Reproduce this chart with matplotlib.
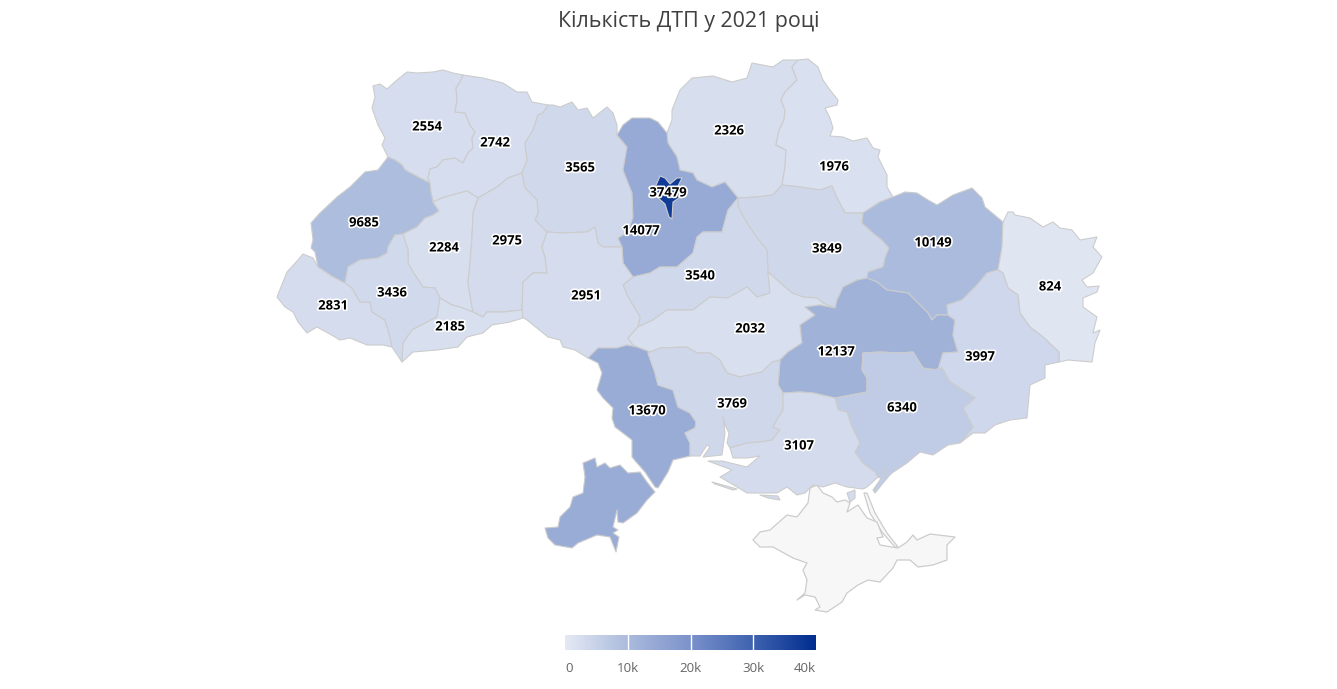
import matplotlib
matplotlib.use('Agg')
import matplotlib.pyplot as plt
import matplotlib.patheffects as pe
import numpy as np
from matplotlib.colors import LinearSegmentedColormap, Normalize
from matplotlib.patches import Polygon

plt.rcParams['font.family'] = ['Open Sans', 'DejaVu Sans']

title = 'Кількість ДТП у 2021 році'

# Accidents per region.
region_names = [
    'volyn', 'rivne', 'zhytomyr', 'chernihiv', 'sumy', 'lviv', 'ternopil',
    'khmelnytskyi', 'kyiv_obl', 'poltava', 'kharkiv', 'luhansk', 'cherkasy',
    'vinnytsia', 'zakarpattia', 'ivano_frankivsk', 'chernivtsi', 'kirovohrad',
    'dnipro', 'donetsk', 'odesa', 'mykolaiv', 'zaporizhzhia', 'kherson',
    'kyiv_city',
]
values = [
    2554, 2742, 3565, 2326, 1976, 9685, 2284,
    2975, 14077, 3849, 10149, 824, 3540,
    2951, 2831, 3436, 2185, 2032,
    12137, 3997, 13670, 3769, 6340, 3107,
    37479,
]
label_x = [427, 495, 580, 729, 834, 364, 444, 507, 641, 827, 933, 1050, 700,
           586, 333, 392, 450, 750, 836, 980, 647, 732, 902, 799, 668]
label_y = [127, 143, 168, 131, 167, 223, 248, 241, 231, 249, 243, 287, 276,
           296, 306, 293, 327, 329, 352, 357, 411, 404, 408, 446, 193]

colorbar_ticks = [0, 10000, 20000, 30000, 40000]
colorbar_labels = ['0', '10k', '20k', '30k', '40k']

# Region outlines, in picture pixels.
volyn = [(373, 86), (380, 84), (387, 89), (397, 80), (407, 72), (417, 73), (433, 72), (443, 70), (453, 73), (463, 75),
         (460, 82), (456, 88), (457, 100), (455, 112), (465, 113), (470, 125), (475, 132), (472, 138), (473, 148),
         (468, 153), (463, 163), (455, 158), (443, 160), (437, 167), (430, 169), (428, 178), (430, 183), (420, 178),
         (405, 170), (402, 165), (395, 160), (388, 157), (382, 145), (385, 138), (378, 125), (372, 108), (375, 97)]
rivne = [(463, 75), (483, 78), (503, 83), (517, 92), (527, 92), (532, 102), (548, 105), (543, 113), (538, 115),
         (533, 130), (525, 143), (527, 160), (522, 173), (508, 178), (497, 187), (478, 198), (467, 191), (452, 195),
         (442, 198), (433, 202), (431, 193), (430, 183), (428, 178), (430, 169), (437, 167), (443, 160), (455, 158),
         (463, 163), (468, 153), (473, 148), (472, 138), (475, 132), (470, 125), (465, 113), (455, 112), (457, 100),
         (456, 88), (460, 82)]
zhytomyr = [(548, 105), (553, 105), (560, 107), (572, 102), (578, 110), (587, 108), (593, 118), (607, 107), (613, 113),
            (617, 125), (617, 135), (627, 147), (623, 170), (632, 193), (633, 217), (628, 232), (618, 238), (622, 247),
            (603, 247), (598, 243), (595, 227), (587, 232), (563, 233), (547, 232), (535, 220), (538, 213), (537, 200),
            (525, 188), (522, 173), (527, 160), (525, 143), (533, 130), (538, 115), (543, 113)]
chernihiv = [(672, 110), (680, 90), (692, 78), (713, 76), (732, 82), (747, 78), (752, 63), (773, 67), (783, 60),
             (798, 60), (792, 67), (797, 80), (785, 92), (781, 100), (785, 110), (784, 120), (779, 130), (776, 145),
             (786, 150), (785, 167), (782, 185), (773, 195), (757, 197), (738, 198), (725, 182), (712, 187), (697, 180),
             (693, 173), (680, 170), (677, 157), (668, 143), (667, 133), (672, 120)]
sumy = [(798, 60), (808, 59), (818, 67), (823, 80), (830, 90), (838, 100), (837, 105), (825, 108), (830, 118),
        (833, 128), (830, 136), (843, 137), (853, 141), (867, 138), (873, 148), (880, 150), (878, 157), (887, 175),
        (887, 187), (893, 197), (880, 202), (863, 213), (845, 213), (837, 198), (832, 186), (820, 190), (800, 187),
        (782, 185), (785, 167), (786, 150), (776, 145), (779, 130), (784, 120), (785, 110), (781, 100), (785, 92),
        (797, 80), (792, 67)]
lviv = [(388, 157), (395, 160), (402, 165), (405, 170), (420, 178), (430, 183), (431, 193), (433, 202), (439, 211),
        (433, 215), (425, 218), (417, 227), (403, 234), (395, 235), (388, 247), (387, 253), (378, 258), (360, 260),
        (348, 267), (345, 283), (333, 277), (318, 267), (315, 252), (311, 248), (313, 240), (311, 223), (320, 213),
        (337, 197), (350, 187), (365, 172), (378, 170)]
ternopil = [(478, 198), (473, 213), (472, 237), (470, 263), (468, 283), (472, 307), (473, 312), (460, 307), (452, 305),
            (440, 298), (435, 288), (423, 287), (413, 272), (408, 263), (408, 250), (403, 234), (417, 227), (425, 218),
            (433, 215), (439, 211), (433, 202), (442, 198), (452, 195), (467, 191)]
khmelnytskyi = [(478, 198), (497, 187), (508, 178), (522, 173), (525, 188), (537, 200), (538, 213), (535, 220),
                (547, 232), (542, 247), (545, 257), (547, 273), (533, 273), (523, 282), (522, 310), (503, 312),
                (487, 312), (483, 317), (473, 312), (472, 307), (468, 283), (470, 263), (472, 237), (473, 213)]
kyiv_obl = [(617, 135), (623, 125), (632, 118), (650, 118), (658, 122), (667, 133), (668, 143), (677, 157), (680, 170),
            (693, 173), (697, 180), (712, 187), (725, 182), (738, 198), (728, 210), (722, 232), (703, 232), (697, 237),
            (693, 253), (677, 267), (660, 267), (650, 273), (633, 277), (623, 263), (622, 247), (618, 238), (628, 232),
            (633, 217), (632, 193), (623, 170), (627, 147)]
poltava = [(738, 198), (757, 197), (773, 195), (782, 185), (800, 187), (820, 190), (832, 186), (837, 198), (845, 213),
           (863, 213), (862, 223), (873, 233), (882, 240), (889, 248), (885, 258), (883, 267), (868, 272), (867, 278),
           (857, 280), (843, 287), (837, 300), (835, 308), (823, 303), (817, 298), (803, 297), (792, 293), (777, 280),
           (768, 272), (767, 250), (757, 238), (747, 223), (738, 207)]
kharkiv = [(863, 213), (880, 202), (893, 197), (905, 192), (917, 193), (928, 200), (937, 205), (953, 195), (972, 188),
           (982, 198), (985, 207), (1003, 222), (1002, 247), (998, 270), (987, 273), (977, 285), (962, 300), (947, 305),
           (948, 315), (937, 315), (932, 320), (928, 313), (917, 302), (908, 293), (887, 290), (877, 282), (867, 278),
           (868, 272), (883, 267), (885, 258), (889, 248), (882, 240), (873, 233), (862, 223)]
luhansk = [(1003, 222), (1008, 212), (1013, 212), (1015, 215), (1030, 218), (1043, 227), (1053, 222), (1060, 228),
           (1072, 230), (1080, 240), (1097, 237), (1093, 247), (1102, 257), (1093, 273), (1082, 280), (1087, 287),
           (1099, 286), (1097, 292), (1083, 298), (1083, 307), (1097, 317), (1093, 333), (1100, 330), (1095, 343),
           (1092, 362), (1068, 360), (1059, 362), (1059, 352), (1043, 337), (1030, 327), (1020, 313), (1018, 295),
           (1008, 288), (1003, 273), (998, 270), (1002, 247)]
cherkasy = [(738, 198), (728, 210), (722, 232), (703, 232), (697, 237), (693, 253), (677, 267), (660, 267), (650, 273),
            (633, 277), (623, 285), (628, 297), (640, 317), (638, 327), (653, 320), (667, 310), (693, 310), (710, 297),
            (728, 298), (747, 287), (757, 297), (770, 293), (768, 272), (767, 250), (757, 238), (747, 223), (738, 207)]
vinnytsia = [(547, 232), (563, 233), (587, 232), (595, 227), (598, 243), (603, 247), (622, 247), (623, 263), (633, 277),
             (623, 285), (628, 297), (640, 317), (638, 327), (628, 338), (633, 345), (637, 347), (627, 345), (617, 348),
             (598, 348), (588, 358), (575, 350), (563, 347), (560, 340), (548, 337), (527, 320), (522, 317), (522, 310),
             (523, 282), (533, 273), (547, 273), (545, 257), (542, 247)]
zakarpattia = [(318, 267), (313, 258), (303, 254), (298, 260), (287, 272), (277, 297), (285, 307), (293, 312),
               (298, 322), (307, 333), (317, 327), (328, 333), (340, 340), (350, 338), (367, 345), (383, 345),
               (392, 347), (390, 337), (385, 320), (372, 312), (370, 302), (360, 302), (352, 288), (345, 283), (333, 277)]
ivano_frankivsk = [(403, 234), (395, 235), (388, 247), (387, 253), (378, 258), (360, 260), (348, 267), (345, 283),
                   (352, 288), (360, 302), (370, 302), (372, 312), (385, 320), (390, 337), (392, 347), (402, 362),
                   (403, 343), (412, 330), (437, 317), (440, 298), (435, 288), (423, 287), (413, 272), (408, 263),
                   (408, 250)]
chernivtsi = [(440, 298), (452, 305), (460, 307), (473, 312), (483, 317), (487, 312), (503, 312), (522, 310), (523, 318),
              (510, 322), (492, 325), (483, 333), (467, 337), (458, 347), (437, 350), (413, 352), (402, 362), (403, 343),
              (412, 330), (437, 317)]
kirovohrad = [(638, 327), (653, 320), (667, 310), (693, 310), (710, 297), (728, 298), (747, 287), (757, 297), (770, 293),
              (768, 272), (777, 280), (792, 293), (803, 297), (817, 298), (823, 303), (835, 308), (820, 305), (805, 307),
              (815, 315), (800, 325), (802, 343), (788, 352), (780, 360), (772, 362), (762, 372), (740, 377), (727, 373),
              (720, 360), (710, 353), (697, 353), (687, 347), (660, 348), (650, 352), (637, 347), (633, 345), (628, 338)]
dnipro = [(800, 325), (815, 315), (805, 307), (820, 305), (835, 308), (837, 300), (843, 287), (857, 280), (867, 278),
          (877, 282), (887, 290), (908, 293), (917, 302), (928, 313), (932, 320), (937, 315), (948, 315), (955, 320),
          (953, 335), (958, 352), (943, 353), (938, 370), (923, 368), (913, 352), (900, 353), (880, 352), (863, 353),
          (862, 370), (867, 378), (867, 392), (835, 398), (813, 393), (800, 392), (783, 393), (778, 385), (780, 360),
          (788, 352), (802, 343)]
donetsk = [(998, 270), (1003, 273), (1008, 288), (1018, 295), (1020, 313), (1030, 327), (1043, 337), (1059, 352),
           (1059, 362), (1045, 365), (1045, 378), (1030, 385), (1027, 418), (1010, 420), (995, 425), (985, 433),
           (973, 433), (960, 443), (973, 427), (963, 408), (975, 398), (963, 390), (950, 382), (942, 368), (938, 370),
           (943, 353), (958, 352), (953, 335), (955, 320), (948, 315), (947, 305), (962, 300), (977, 285), (987, 273)]
odesa = [(588, 358), (598, 348), (617, 348), (627, 345), (637, 347), (650, 352), (648, 353), (655, 373), (658, 385),
         (673, 390), (678, 407), (690, 413), (696, 422), (695, 428), (685, 433), (690, 443), (690, 456), (673, 460),
         (668, 472), (658, 488), (655, 487), (645, 472), (637, 463), (632, 457), (632, 440), (615, 427), (612, 418),
         (613, 408), (603, 398), (597, 390), (602, 373), (598, 363)]
odesa_south = [(583, 463), (595, 458), (597, 467), (605, 463), (610, 468), (620, 465), (628, 473), (640, 472), (647, 482),
               (655, 492), (647, 500), (637, 513), (623, 523), (618, 522), (617, 510), (613, 527), (618, 530), (613, 533),
               (619, 537), (616, 552), (610, 537), (597, 535), (578, 543), (572, 548), (555, 545), (548, 538), (545, 528),
               (558, 527), (560, 517), (570, 507), (573, 497), (583, 493), (585, 477)]
mykolaiv = [(650, 352), (660, 348), (687, 347), (697, 353), (710, 353), (720, 360), (727, 373), (740, 377), (762, 372),
            (772, 362), (780, 360), (778, 385), (783, 393), (783, 410), (778, 418), (773, 427), (780, 430), (772, 440),
            (760, 442), (747, 443), (730, 448), (727, 443), (729, 433), (725, 425), (723, 417), (725, 433), (722, 455),
            (703, 457), (710, 447), (707, 445), (700, 456), (690, 456), (690, 443), (685, 433), (695, 428), (696, 422),
            (690, 413), (678, 407), (673, 390), (658, 385), (655, 373), (648, 353)]
zaporizhzhia = [(863, 353), (880, 352), (900, 353), (913, 352), (923, 368), (932, 370), (942, 368), (950, 382), (963, 390),
                (975, 398), (963, 408), (973, 427), (960, 443), (948, 445), (933, 455), (920, 452), (907, 463), (892, 473),
                (885, 480), (878, 477), (875, 472), (863, 463), (855, 452), (860, 443), (852, 427), (847, 412), (838, 410),
                (835, 398), (867, 392), (867, 378), (862, 370)]
zaporizhzhia_spit = [(884, 468), (888, 477), (875, 493), (873, 490), (880, 480)]
kherson = [(730, 448), (747, 443), (760, 442), (772, 440), (780, 430), (773, 427), (778, 418), (783, 410), (783, 393),
           (800, 392), (813, 393), (835, 398), (838, 410), (847, 412), (852, 427), (860, 443), (855, 452), (863, 463),
           (875, 472), (878, 477), (867, 487), (863, 489), (847, 487), (835, 483), (823, 487), (813, 485), (805, 493),
           (797, 495), (787, 487), (777, 493), (760, 493), (747, 493), (737, 487), (720, 477), (732, 470), (708, 461),
           (722, 461), (747, 467), (760, 456), (748, 458), (733, 458)]
kherson_spit_a = [(712, 482), (737, 489), (733, 490), (715, 484)]
kherson_spit_b = [(760, 495), (778, 496), (780, 500), (768, 498)]
kherson_island = [(847, 493), (855, 490), (855, 498), (850, 502)]
kyiv_city = [(657, 183), (660, 176), (665, 178), (670, 184), (677, 178), (682, 178), (678, 186), (676, 191), (679, 198),
             (673, 202), (672, 219), (669, 217), (665, 204), (656, 196), (654, 190)]
crimea = [(753, 540), (760, 532), (770, 530), (787, 515), (797, 517), (808, 503), (810, 488), (817, 485), (823, 493),
          (832, 497), (837, 502), (845, 500), (850, 503), (847, 512), (858, 505), (867, 518), (877, 522), (883, 537),
          (877, 538), (880, 545), (898, 548), (907, 542), (913, 535), (917, 540), (930, 534), (955, 537), (947, 545),
          (947, 560), (933, 565), (918, 567), (910, 560), (897, 560), (893, 568), (880, 582), (868, 580), (858, 585),
          (847, 593), (842, 602), (827, 612), (815, 610), (820, 607), (815, 597), (805, 595), (797, 600), (805, 593),
          (807, 580), (803, 570), (807, 563), (793, 558), (773, 547), (760, 547)]
arabat_spit = [(864, 493), (867, 493), (875, 513), (887, 533), (898, 547), (895, 547), (882, 532), (870, 513)]

shapes = {
    'volyn': [volyn], 'rivne': [rivne], 'zhytomyr': [zhytomyr], 'chernihiv': [chernihiv], 'sumy': [sumy],
    'lviv': [lviv], 'ternopil': [ternopil], 'khmelnytskyi': [khmelnytskyi], 'kyiv_obl': [kyiv_obl],
    'poltava': [poltava], 'kharkiv': [kharkiv], 'luhansk': [luhansk], 'cherkasy': [cherkasy],
    'vinnytsia': [vinnytsia], 'zakarpattia': [zakarpattia], 'ivano_frankivsk': [ivano_frankivsk],
    'chernivtsi': [chernivtsi], 'kirovohrad': [kirovohrad], 'dnipro': [dnipro], 'donetsk': [donetsk],
    'odesa': [odesa, odesa_south], 'mykolaiv': [mykolaiv], 'zaporizhzhia': [zaporizhzhia, zaporizhzhia_spit],
    'kherson': [kherson, kherson_spit_a, kherson_spit_b, kherson_island], 'kyiv_city': [kyiv_city],
}

cmap = LinearSegmentedColormap.from_list(
    'dtp', [(0, '#e4e9f4'), (0.25, '#abbbdd'), (0.5, '#7b92cb'), (0.75, '#3f63b0'), (1, '#002d8f')]
)
norm = Normalize(0, 40000)

fig = plt.figure(figsize=(13.37, 6.89), dpi=100)
ax = fig.add_axes([0, 0, 1, 1])
edge = '#cccccc'

# No-data regions first.
for outline in [arabat_spit, crimea]:
    ax.add_patch(Polygon(outline, closed=True, fc='#f7f7f7', ec=edge, lw=0.9, joinstyle='round'))

for name, value in zip(region_names, values):
    for outline in shapes[name]:
        ax.add_patch(Polygon(outline, closed=True, fc=cmap(norm(value)), ec=edge, lw=0.8, joinstyle='round'))

for x, y, value in zip(label_x, label_y, values):
    ax.text(x, y, str(value), ha='center', va='center', fontsize=9.4, fontweight='bold', color='black',
            path_effects=[pe.withStroke(linewidth=2.4, foreground='white')], zorder=5)

ax.text(689, 22, title, ha='center', va='center', fontsize=15.4, color='#404040')

# Colour scale.
bar_left, bar_right, bar_top, bar_bottom = 565, 816, 635, 650
gradient = np.linspace(0, 40000, 256).reshape(1, -1)
ax.imshow(gradient, extent=(bar_left, bar_right, bar_bottom, bar_top), cmap=cmap, norm=norm, aspect='auto')
tick_x = np.interp(colorbar_ticks, [0, 40000], [bar_left, bar_right])
for x in tick_x[1:-1]:
    ax.plot([x, x], [bar_top, bar_bottom], color='white', lw=1)
for i, (x, text) in enumerate(zip(tick_x, colorbar_labels)):
    ha = 'left' if i == 0 else ('right' if i == len(tick_x) - 1 else 'center')
    ax.text(x, 669, text, ha=ha, va='center', fontsize=9.6, color='#666666')

ax.set_xlim(0, 1337)
ax.set_ylim(689, 0)
ax.axis('off')

fig.savefig('out.png', dpi=100)
